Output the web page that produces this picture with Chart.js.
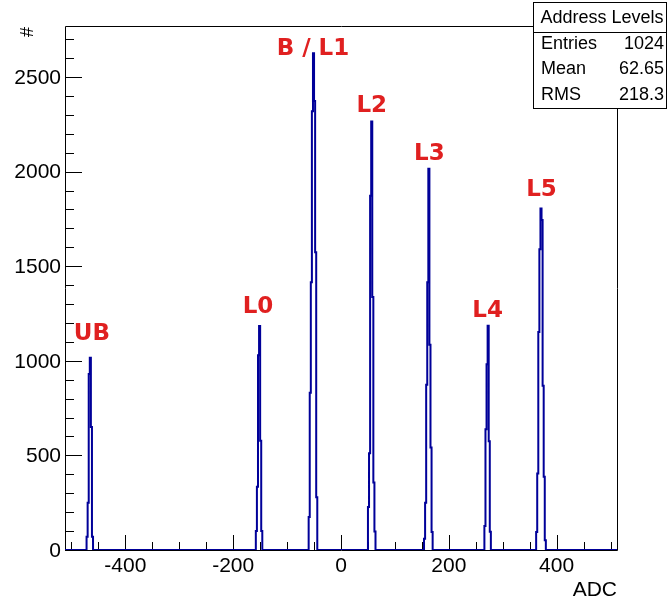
<!DOCTYPE html>
<html><head><meta charset="utf-8">
<script src="https://cdn.jsdelivr.net/npm/chart.js@4"></script>
<style>html,body{margin:0;padding:0;background:#fff}canvas{display:block}</style>
</head><body>
<canvas id="c" width="667" height="601"></canvas>
<script>
// ---- data ----
const xMin = -512, xMax = 512, binWidth = 2;
const yMax = 2770;
const peakNames = ['UB', 'L0', 'B / L1', 'L2', 'L3', 'L4', 'L5'];
const peakFirstBin = [-472, -158, -60, 50, 154, 266, 362];
const ubCounts = [70, 250, 930, 1016, 650, 70];
const l0Counts = [100, 335, 1030, 1184, 578, 100];
const l1Counts = [174, 831, 1416, 2320, 2626, 2373, 1574, 279];
const l2Counts = [227, 512, 1873, 2265, 1338, 357, 98];
const l3Counts = [60, 250, 873, 1416, 2015, 1085, 542, 95];
const l4Counts = [127, 638, 982, 1185, 575, 97];
const l5Counts = [95, 404, 1152, 1590, 1805, 1745, 868, 387, 52];
const peakCounts = [ubCounts, l0Counts, l1Counts, l2Counts, l3Counts, l4Counts, l5Counts];
// peak label anchors (data coords, text centre)
const labelX = [-462, -154, -52, 57, 164, 272, 372];
const labelY = [1144, 1287, 2648, 2347, 2093, 1261, 1902];
// axis ticks
const xMajorTicks = [-400, -200, 0, 200, 400];
const xMajorLabels = ['-400', '-200', '0', '200', '400'];
const yMajorTicks = [0, 500, 1000, 1500, 2000, 2500];
const yMajorLabels = ['0', '500', '1000', '1500', '2000', '2500'];
const xMinorStep = 50, yMinorStep = 100;
// stats box
const statsTitle = 'Address Levels';
const statsNames = ['Entries', 'Mean', 'RMS'];
const statsValues = ['1024', '62.65', '218.3'];
const xTitle = 'ADC', yTitle = '#';

// ---- build histogram (bin low edges) ----
const nBins = (xMax - xMin) / binWidth;
const counts = new Array(nBins).fill(0);
peakFirstBin.forEach((start, p) => {
  const i0 = (start - xMin) / binWidth;
  peakCounts[p].forEach((c, k) => { counts[i0 + k] = c; });
});
const points = counts.map((c, i) => ({x: xMin + i * binWidth, y: c}));
points.push({x: xMax, y: counts[nBins - 1]});

const TXT = '"Liberation Sans", Arial, Helvetica, sans-serif';

const frame = {
  id: 'frame',
  beforeDatasetsDraw(chart) {
    const {ctx, chartArea: a, scales: {x, y}} = chart;
    ctx.save();
    ctx.strokeStyle = '#000'; ctx.lineWidth = 1;
    ctx.beginPath();
    ctx.moveTo(a.left + 0.5, a.bottom + 0.5); ctx.lineTo(a.left + 0.5, a.top + 0.5);
    ctx.lineTo(a.right + 0.5, a.top + 0.5); ctx.lineTo(a.right + 0.5, a.bottom + 0.5);
    ctx.lineTo(a.left + 0.5, a.bottom + 0.5);
    ctx.stroke();
    ctx.beginPath();
    for (let v = 0; v <= yMax; v += yMinorStep) {
      const py = Math.round(y.getPixelForValue(v)) + 0.5;
      const len = (v % 500 === 0) ? 17 : 9;
      ctx.moveTo(a.left, py); ctx.lineTo(a.left + len, py);
    }
    for (let v = -500; v <= 500; v += xMinorStep) {
      const px = Math.round(x.getPixelForValue(v)) + 0.5;
      const len = (v % 200 === 0) ? 15 : 8;
      ctx.moveTo(px, a.bottom); ctx.lineTo(px, a.bottom - len);
    }
    ctx.stroke();
    ctx.fillStyle = '#000';
    ctx.font = '21px ' + TXT;
    ctx.textAlign = 'right'; ctx.textBaseline = 'middle';
    yMajorTicks.forEach((v, i) => ctx.fillText(yMajorLabels[i], a.left - 4, y.getPixelForValue(v) + 1));
    ctx.textAlign = 'center';
    xMajorTicks.forEach((v, i) => ctx.fillText(xMajorLabels[i], x.getPixelForValue(v), a.bottom + 16));
    ctx.textAlign = 'right';
    ctx.fillText(xTitle, a.right, a.bottom + 40);
    ctx.save();
    ctx.translate(28, 32); ctx.rotate(-Math.PI / 2);
    ctx.textAlign = 'center'; ctx.font = '18px ' + TXT;
    ctx.fillText(yTitle, 0, 0);
    ctx.restore();
    ctx.restore();
  },
  afterDraw(chart) {
    const {ctx, scales: {x, y}} = chart;
    ctx.save();
    ctx.fillStyle = '#e02020';
    ctx.font = 'bold 23px "DejaVu Sans", sans-serif';
    ctx.textAlign = 'center'; ctx.textBaseline = 'middle';
    peakNames.forEach((n, i) => ctx.fillText(n, x.getPixelForValue(labelX[i]), y.getPixelForValue(labelY[i])));
    // stats box
    const bx = 533.5, by = 2.5, bw = 133, bh = 106;
    ctx.fillStyle = '#fff';
    ctx.fillRect(bx, by, bw, bh);
    ctx.strokeStyle = '#000'; ctx.lineWidth = 1;
    ctx.strokeRect(bx, by, bw, bh);
    ctx.beginPath(); ctx.moveTo(bx, 32.5); ctx.lineTo(bx + bw, 32.5); ctx.stroke();
    ctx.fillStyle = '#000';
    ctx.font = '18px ' + TXT;
    ctx.textAlign = 'center';
    ctx.fillText(statsTitle, 602, 18);
    const rows = [44, 69.5, 95];
    statsNames.forEach((n, i) => {
      ctx.textAlign = 'left'; ctx.fillText(n, 541, rows[i]);
      ctx.textAlign = 'right'; ctx.fillText(statsValues[i], 664, rows[i]);
    });
    ctx.restore();
  }
};

new Chart(document.getElementById('c'), {
  type: 'line',
  data: {datasets: [{
    data: points, borderColor: '#000099', borderWidth: 2, pointRadius: 0,
    stepped: true, fill: false, tension: 0
  }]},
  options: {
    responsive: false, animation: false, events: [],
    layout: {padding: {left: 65, right: 50, top: 26, bottom: 51}},
    scales: {
      x: {type: 'linear', min: xMin, max: xMax, display: false},
      y: {type: 'linear', min: 0, max: yMax, display: false}
    },
    plugins: {legend: {display: false}, tooltip: {enabled: false}}
  },
  plugins: [frame]
});
</script>
</body></html>
